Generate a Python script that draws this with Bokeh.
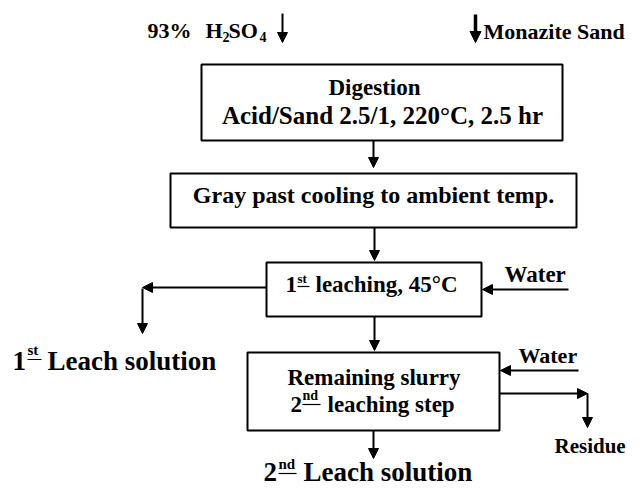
from bokeh.plotting import figure
from bokeh.models import ColumnDataSource, Range1d, Arrow, NormalHead
from bokeh.core.properties import value
from bokeh.embed import file_html
from bokeh.resources import INLINE

# ---- content (labels of the flow sheet) ----
acid_parts = ["93%", "H", "2", "SO", "4"]
sand_label = "Monazite Sand"
box_labels = ["Digestion", "Acid/Sand 2.5/1, 220°C, 2.5 hr",
              "Gray past cooling to ambient temp.", "Remaining slurry"]
leach1_parts = ["1", "st", "leaching, 45°C"]
leach2_parts = ["2", "nd", "leaching step"]
side_labels = ["Water", "Water", "Residue"]
out1_parts = ["1", "st", "Leach solution"]
out2_parts = ["2", "nd", "Leach solution"]

# ---- layout (pixel coordinates of the drawing; text y = middle of the em box) ----
FONT = value("Liberation Serif")

left_texts = acid_parts + [sand_label] + leach1_parts + leach2_parts + side_labels + out1_parts + out2_parts
left_x = [147, 205, 222, 228, 259, 483,
          285, 297, 315,
          290, 302, 327,
          504, 518, 554,
          12, 27, 47,
          263, 278, 303]
left_y = [29.5, 29.5, 36.2, 29.5, 36.2, 30.5,
          284.2, 277.6, 284.2,
          404.2, 395.2, 404.2,
          274.2, 354.5, 445.9,
          360.8, 349.9, 360.8,
          471.8, 463.9, 471.8]
left_size = ["22px", "22px", "14px", "22px", "14px", "22px",
             "23px", "13px", "23px",
             "23px", "14px", "23px",
             "23px", "22px", "21px",
             "27px", "15px", "27px",
             "27px", "15px", "27px"]

center_x = [374, 382, 373, 373.5]
center_y = [87.2, 114.5, 194.8, 377.2]
center_size = ["23px", "25px", "24px", "23px"]

# boxes: left, right, top, bottom
box_l = [201, 170, 266, 247]
box_r = [562, 576, 481, 499]
box_t = [64, 173, 262, 352]
box_b = [140, 227, 316, 430]

# arrows
ax0 = [282, 373, 374, 266, 142, 568, 374, 578, 499, 587, 373]
ay0 = [13, 140, 227, 287, 288, 289, 316, 370, 393, 393, 430]
ax1 = [282, 373, 374, 142, 142, 482, 374, 500, 587, 587, 373]
ay1 = [42, 167, 260, 287, 333, 289, 350, 370, 393, 427, 458]

# underlines of superscripts
ul_x0 = [297, 302, 27, 278]
ul_x1 = [309, 320, 41, 296]
ul_y = [286, 404, 359, 473]

p = figure(width=628, height=488, x_range=Range1d(0, 628), y_range=Range1d(488, 0),
           output_backend="svg", toolbar_location=None, min_border=0,
           x_axis_type=None, y_axis_type=None)
p.grid.visible = False
p.outline_line_color = None
p.background_fill_color = "white"
p.border_fill_color = "white"

p.quad(left=box_l, right=box_r, top=box_t, bottom=box_b,
       fill_color="white", line_color="black", line_width=2)

src_a = ColumnDataSource(dict(x0=ax0, y0=ay0, x1=ax1, y1=ay1))
p.add_layout(Arrow(end=NormalHead(size=10, fill_color="black", line_color="black", line_width=1),
                   x_start="x0", y_start="y0", x_end="x1", y_end="y1", source=src_a,
                   line_width=2, line_color="black"))
src_b = ColumnDataSource(dict(x0=[475], y0=[14], x1=[475], y1=[42]))
p.add_layout(Arrow(end=NormalHead(size=11, fill_color="black", line_color="black", line_width=1),
                   x_start="x0", y_start="y0", x_end="x1", y_end="y1", source=src_b,
                   line_width=3.5, line_color="black"))

p.segment(x0=ul_x0, y0=ul_y, x1=ul_x1, y1=ul_y, line_color="black", line_width=1.2)

src_l = ColumnDataSource(dict(x=left_x, y=left_y, t=left_texts, s=left_size))
p.text(x="x", y="y", text="t", text_font_size="s", source=src_l, text_font=FONT,
       text_font_style="bold", text_align="left", text_baseline="middle", text_color="black")

src_c = ColumnDataSource(dict(x=center_x, y=center_y, t=box_labels, s=center_size))
p.text(x="x", y="y", text="t", text_font_size="s", source=src_c, text_font=FONT,
       text_font_style="bold", text_align="center", text_baseline="middle", text_color="black")

open("out.html", "w").write(file_html(p, INLINE))
